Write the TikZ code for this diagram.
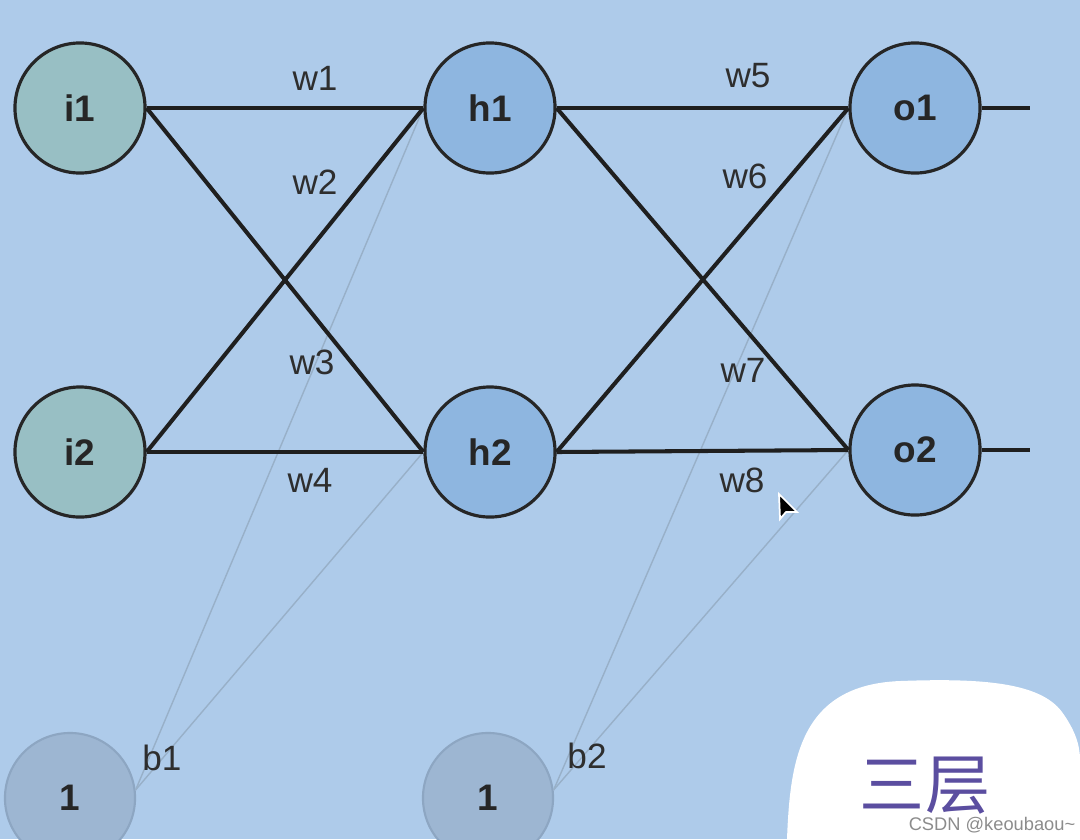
\documentclass[tikz,border=0pt]{standalone}
\usepackage{fontspec}
\setmainfont{Liberation Sans}
\newfontfamily\cjk{Noto Sans CJK SC}
\begin{document}
\begin{tikzpicture}[
    x=0.01cm, y=-0.01cm,
    neuron/.style={
        circle,
        draw=black!85,
        line width=0.9pt,
        minimum size=1.3cm,
        inner sep=0pt,
        font=\fontsize{10.5}{12}\selectfont\bfseries,
        text=black!85
    },
    entrada/.style={neuron, fill=inputfill},
    oculta/.style={neuron, fill=hiddenfill},
    sesgo/.style={neuron, draw=biasdraw, line width=0.6pt, fill=biasfill},
    peso/.style={
        line width=1.15pt,
        draw=black!88
    },
    sesgolinea/.style={
        line width=0.4pt,
        draw=biasline
    },
    etiqueta/.style={
        font=\fontsize{10}{12}\selectfont,
        text=black!82,
        inner sep=0pt
    }
]
\definecolor{bgblue}{HTML}{AECBEA}
\definecolor{inputfill}{HTML}{98BFC4}
\definecolor{hiddenfill}{HTML}{8EB6E0}
\definecolor{biasfill}{HTML}{9DB6D2}
\definecolor{biasdraw}{HTML}{8DA6C2}
\definecolor{biasline}{HTML}{98B0C8}
\definecolor{titlepurple}{HTML}{5B4EA0}

% Fondo
\fill[bgblue] (0,0) rectangle (1080,839);
\useasboundingbox (0,0) rectangle (1080,839);

% Capa de entrada
\node[entrada] (i1) at (80,108) {i1};
\node[entrada] (i2) at (80,452) {i2};

% Capa oculta
\node[oculta] (h1) at (490,108) {h1};
\node[oculta] (h2) at (490,452) {h2};

% Capa de salida
\node[oculta] (o1) at (915,108) {o1};
\node[oculta] (o2) at (915,450) {o2};

% Sesgos
\node[sesgo] (b1) at (70,798) {1};
\node[sesgo] (b2) at (488,798) {1};

% Lineas de sesgo
\draw[sesgolinea] (b1.7) -- (h1.west);
\draw[sesgolinea] (b1.7) -- (h2.west);
\draw[sesgolinea] (b2.7) -- (o1.west);
\draw[sesgolinea] (b2.7) -- (o2.west);

% Pesos
\draw[peso] (i1.east) -- (h1.west);
\draw[peso] (i1.east) -- (h2.west);
\draw[peso] (i2.east) -- (h1.west);
\draw[peso] (i2.east) -- (h2.west);
\draw[peso] (h1.east) -- (o1.west);
\draw[peso] (h1.east) -- (o2.west);
\draw[peso] (h2.east) -- (o1.west);
\draw[peso] (h2.east) -- (o2.west);

% Salidas
\coordinate (s1) at (1030,108);
\coordinate (s2) at (1030,450);
\draw[peso] (o1.east) -- (s1);
\draw[peso] (o2.east) -- (s2);

% Etiquetas
\node[etiqueta] (lw1) at (315,78) {w1};
\node[etiqueta] (lw2) at (315,182) {w2};
\node[etiqueta] (lw3) at (312,362) {w3};
\node[etiqueta] (lw4) at (310,480) {w4};
\node[etiqueta] (lw5) at (748,76) {w5};
\node[etiqueta] (lw6) at (745,176) {w6};
\node[etiqueta] (lw7) at (743,370) {w7};
\node[etiqueta] (lw8) at (742,480) {w8};
\node[etiqueta] (lb1) at (162,758) {b1};
\node[etiqueta] (lb2) at (587,756) {b2};

% Puntero
\filldraw[fill=black, draw=white, line width=0.5pt]
    (779,494) -- (780,519) -- (786,512) -- (797,512) -- cycle;

% Recuadro blanco
\fill[white] (787,839) .. controls (790,760) and (800,685) .. (900,681)
    .. controls (980,678) and (1040,682) .. (1062,712)
    .. controls (1075,730) and (1080,745) .. (1080,760)
    -- (1080,839) -- cycle;
\node[text=titlepurple, font=\cjk\fontsize{18.5}{22}\selectfont, inner sep=0pt] (titulo) at (925,786) {三层};
\node[text=black!45, font=\fontsize{5.2}{6}\selectfont, inner sep=0pt] (marca) at (992,825) {CSDN @keoubaou\textasciitilde};

\end{tikzpicture}
\end{document}
